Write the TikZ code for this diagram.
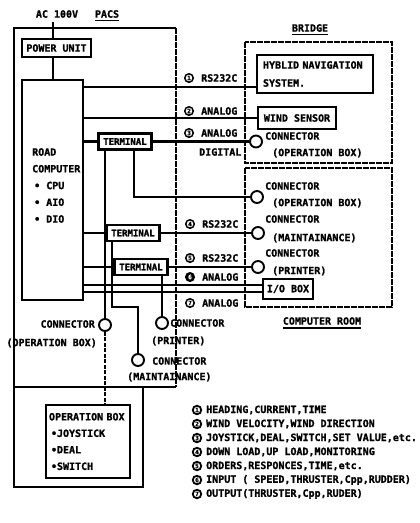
\documentclass[tikz,border=0pt]{standalone}
\usepackage{fontspec}
\setmainfont{DejaVu Sans Mono}[BoldFeatures={FakeBold=1.2}]
\usetikzlibrary{calc}
\begin{document}
\begin{tikzpicture}[x=1pt,y=-1pt,
  every node/.style={font=\fontsize{10}{12}\selectfont\bfseries, inner sep=0pt},
  wire/.style={line width=2.2pt},
  frameline/.style={line width=1.6pt},
  framedash/.style={line width=1.6pt, dash pattern=on 6pt off 1pt},
  box/.style={draw, line width=2.2pt, fill=white},
  conn/.style={draw, circle, line width=1.9pt, minimum size=12pt, fill=white},
  num/.style={draw, circle, line width=1.5pt, minimum size=8.5pt, fill=white, font=\fontsize{6}{6}\selectfont\bfseries},
  numf/.style={num, fill=black, text=white},
  lnum/.style={num, line width=1.8pt},
  term/.style={box, minimum height=16pt, minimum width=53pt, font=\fontsize{9}{10}\selectfont\bfseries},
]
\useasboundingbox (0,0) rectangle (420,523);

% ---------- region frames ----------
\draw[frameline] (176,28) -- (14,28) -- (14,387) -- (176,387);
\draw[framedash] (176,28) -- (176,387);
\draw[frameline] (14,387) -- (14,487) -- (143,487) -- (143,387);
\draw[framedash] (245,42) rectangle (392,163);
\draw[framedash] (245,168) rectangle (392,307);

% ---------- titles ----------
\node (ac) at (57,14) {AC 100V};
\node (pacs) at (107,14) {PACS};
\draw[line width=1.2pt] ([yshift=-2.5pt]pacs.south west) -- ([yshift=-2.5pt]pacs.south east);
\node (bridge) at (310,28) {BRIDGE};
\draw[line width=1.2pt] ([yshift=-2.5pt]bridge.south west) -- ([yshift=-2.5pt]bridge.south east);
\node (croom) at (322,321) {COMPUTER ROOM};
\draw[line width=1.2pt] ([yshift=-3pt]croom.south west) -- ([yshift=-3pt]croom.south east);

% ---------- boxes ----------
\node[box, minimum width=69pt, minimum height=18pt] (pu) at (56.5,48) {POWER UNIT};
\node[box, minimum width=61pt, minimum height=220pt] (comp) at (52.5,190) {};
\node[anchor=north west, align=left, font=\fontsize{10}{16.75}\selectfont\bfseries] (compT) at (32,148)
  {ROAD\\COMPUTER\\\hspace*{2pt}• CPU\\\hspace*{2pt}• AIO\\\hspace*{2pt}• DIO};
\node[box, minimum width=116pt, minimum height=38pt, text width=104pt, align=left,
      font=\fontsize{10}{18}\selectfont\bfseries] (hyb) at (315,74) {HYBLID NAVIGATION\\SYSTEM.};
\node[box, minimum width=78pt, minimum height=22pt] (wind) at (297,118) {WIND SENSOR};
\node[term] (t1) at (125,141.5) {TERMINAL};
\node[term] (t2) at (133,233) {TERMINAL};
\node[term] (t3) at (141,267) {TERMINAL};
\node[box, minimum width=50pt, minimum height=20pt] (io) at (288,289) {I/O BOX};
\node[box, minimum width=84pt, minimum height=73pt, text width=78pt, align=left,
      font=\fontsize{10}{16.5}\selectfont\bfseries] (opb) at (88,441.5)
  {OPERATION BOX\\\hspace*{2pt}•JOYSTICK\\\hspace*{2pt}•DEAL\\\hspace*{2pt}•SWITCH};

% ---------- connectors ----------
\node[conn] (cb)  at (256,141.5) {};
\node[conn] (cc1) at (257,197) {};
\node[conn] (cc2) at (258,233) {};
\node[conn] (cc3) at (258,267) {};
\node[conn] (cpo) at (105,325) {};
\node[conn] (cpp) at (162,323) {};
\node[conn] (cpm) at (138,360) {};

\node[anchor=west] (cbA) at (265,136) {CONNECTOR};
\node[anchor=west] (cbB) at (272,153) {(OPERATION BOX)};
\node[anchor=west] (cc1A) at (265,186) {CONNECTOR};
\node[anchor=west] (cc1B) at (272,203) {(OPERATION BOX)};
\node[anchor=west] (cc2A) at (265,219) {CONNECTOR};
\node[anchor=west] (cc2B) at (272,238) {(MAINTAINANCE)};
\node[anchor=west] (cc3A) at (265,253) {CONNECTOR};
\node[anchor=west] (cc3B) at (272,271) {(PRINTER)};
\node[anchor=east] (cpoA) at (95,324) {CONNECTOR};
\node[anchor=east] (cpoB) at (97,343) {(OPERATION BOX)};
\node[anchor=west] (cppA) at (170,323) {CONNECTOR};
\node[anchor=west] (cppB) at (151,341) {(PRINTER)};
\node[anchor=west] (cpmA) at (152,361) {CONNECTOR};
\node[anchor=west] (cpmB) at (127,377) {(MAINTAINANCE)};

% ---------- signal labels ----------
\node[num]  (n1) at (189,78)  {1};
\node[num]  (n2) at (189,111) {2};
\node[num]  (n3) at (189,133) {3};
\node[num]  (n4) at (190,224) {4};
\node[num]  (n5) at (190,258) {5};
\node[numf] (n6) at (190,277) {6};
\node[num]  (n7) at (190,303) {7};
\node[anchor=west] (s1) at (201,78)  {RS232C};
\node[anchor=west] (s2) at (201,111) {ANALOG};
\node[anchor=west] (s3) at (201,133) {ANALOG};
\node[anchor=west] (s3b) at (199,152) {DIGITAL};
\node[anchor=west] (s4) at (202,224) {RS232C};
\node[anchor=west] (s5) at (202,258) {RS232C};
\node[anchor=west] (s6) at (202,277) {ANALOG};
\node[anchor=west] (s7) at (202,303) {ANALOG};

% ---------- wires ----------
\coordinate (acx) at (53,22);
\coordinate (r1) at (0,87);
\coordinate (r6) at (0,285);
\coordinate (r7) at (0,292);
\coordinate (v2) at (134,0);
\coordinate (k)  at (112,307);

\draw[wire] (acx) -- (acx |- pu.north);
\draw[wire] (acx |- pu.south) -- (acx |- comp.north);
\draw[wire] (comp.east |- r1) -- (hyb.west |- r1);
\draw[wire] (comp.east |- wind.west) -- (wind.west);
\draw[wire] (comp.east |- t1.west) -- (t1.west);
\draw[wire] (t1.east) -- (cb.west);
\draw[wire] (t1.south -| cpo.north) -- (cpo.north);
\draw[wire] (t1.south -| v2) |- (cc1.west);
\draw[wire] (comp.east |- t2.west) -- (t2.west);
\draw[wire] (t2.east) -- (cc2.west);
\draw[wire] (t2.south -| k) -- (k) -| (cpm.north);
\draw[wire] (comp.east |- t3.west) -- (t3.west);
\draw[wire] (t3.east) -- (cc3.west);
\draw[wire] (t3.south -| cpp.north) -- (cpp.north);
\draw[wire] (comp.east |- r6) -- (io.west |- r6);
\draw[wire] (comp.east |- r7) -- (io.west |- r7);
\draw[wire, dash pattern=on 4pt off 1.5pt] (cpo.south) -- (cpo.south |- opb.north);

% ---------- legend ----------
\foreach \i/\t in {1/{HEADING,CURRENT,TIME},
                   2/{WIND VELOCITY,WIND DIRECTION},
                   3/{JOYSTICK,DEAL,SWITCH,SET VALUE,etc.},
                   4/{DOWN LOAD,UP LOAD,MONITORING},
                   5/{ORDERS,RESPONCES,TIME,etc.},
                   6/{INPUT ( SPEED,THRUSTER,Cpp,RUDDER)},
                   7/{OUTPUT(THRUSTER,Cpp,RUDER)}} {
  \node[lnum] (ln\i) at (197,{410+14*(\i-1)}) {\i};
  \node[anchor=west] (lt\i) at (206,{410+14*(\i-1)}) {\t};
}
\end{tikzpicture}
\end{document}
